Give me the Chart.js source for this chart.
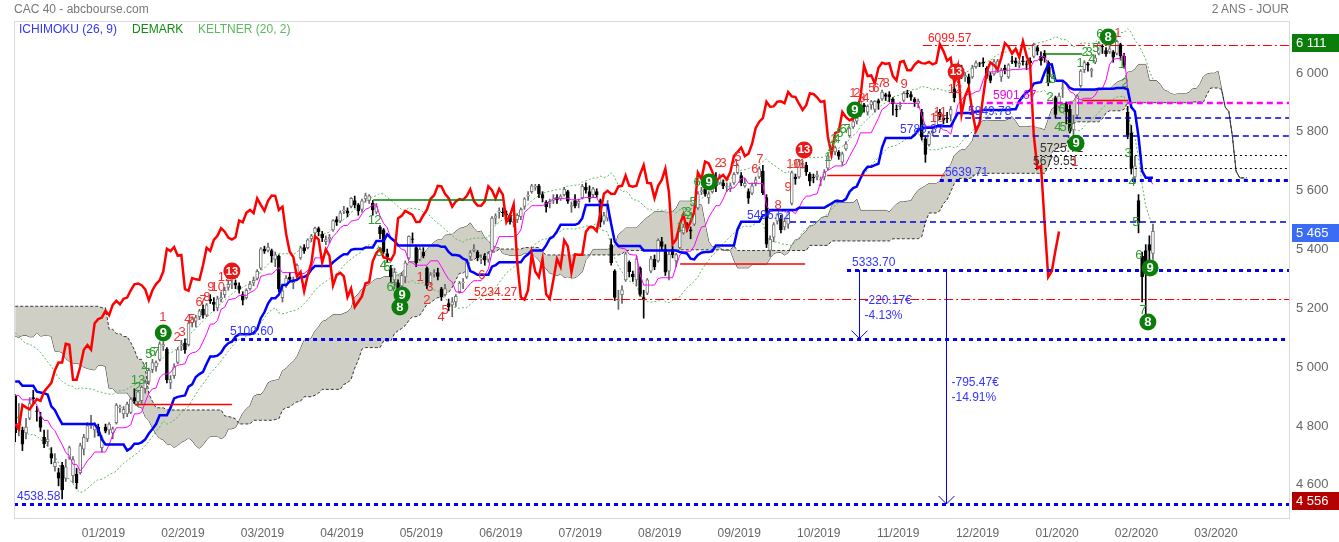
<!DOCTYPE html>
<html><head><meta charset="utf-8">
<script src="https://cdn.jsdelivr.net/npm/chart.js@4.4.0/dist/chart.umd.min.js"></script>
<style>
html,body{margin:0;padding:0;background:#fff;}
#wrap{position:relative;width:1339px;height:542px;overflow:hidden;}
canvas{position:absolute;left:0;top:0;}
.t{position:absolute;font:12px "Liberation Sans",Arial,sans-serif;white-space:nowrap;line-height:14px;}
</style></head><body>
<div id="wrap">
<canvas id="c" width="1339" height="542"></canvas>
<div class="t" style="left:14px;top:2px;color:#777">CAC 40 - abcbourse.com</div>
<div class="t" style="right:50px;top:2px;color:#777">2 ANS - JOUR</div>
<div class="t" style="left:19px;top:22px;color:#3535ff">ICHIMOKU (26, 9)</div>
<div class="t" style="left:132px;top:22px;color:#118c11">DEMARK</div>
<div class="t" style="left:198px;top:22px;color:#5cb85c">KELTNER (20, 2)</div>
</div>
<script>
// ---------- price data: daily [open, high, low, close] ----------
// history before the visible window (used only by the indicators)
const h2018_08 = [[5350,5385,5345,5373],[5380,5410,5372,5402],[5400,5420,5390,5413],[5410,5425,5390,5406],[5408,5440,5400,5432],[5445,5485,5440,5479],[5480,5495,5465,5482],[5485,5510,5470,5502],[5495,5500,5430,5441],[5430,5440,5395,5406]];
const h2018_09 = [[5400,5425,5395,5413],[5410,5415,5335,5343],[5340,5350,5265,5279],[5285,5300,5250,5270],[5265,5275,5230,5252],[5260,5295,5255,5280],[5275,5300,5250,5295],[5300,5325,5285,5315],[5320,5345,5310,5328],[5335,5360,5325,5353],[5350,5355,5330,5347],[5345,5380,5340,5370],[5375,5400,5365,5391],[5400,5420,5395,5410],[5430,5525,5425,5494],[5480,5500,5465,5477],[5475,5495,5465,5480],[5485,5505,5475,5492],[5490,5515,5480,5512],[5495,5510,5480,5493]];
const h2018_10 = [[5500,5515,5480,5507],[5490,5495,5450,5467],[5470,5495,5455,5480],[5450,5455,5400,5410],[5400,5405,5345,5359],[5320,5330,5280,5300],[5310,5340,5295,5320],[5320,5330,5200,5206],[5140,5150,5080,5106],[5130,5140,5070,5095],[5100,5125,5080,5113],[5120,5170,5110,5166],[5160,5175,5130,5145],[5150,5160,5100,5116],[5110,5130,5060,5084],[5090,5110,5040,5053],[5020,5030,4930,4967],[4980,5010,4940,4953],[4960,5040,4920,5032],[4960,4995,4896,4967],[5000,5050,4990,5008],[5000,5045,4975,5034],[5070,5100,5060,5093]];
const h2018_11 = [[5095,5110,5060,5085],[5110,5140,5090,5102],[5080,5100,5060,5085],[5085,5095,5060,5075],[5100,5140,5095,5130],[5130,5160,5115,5128],[5110,5120,5090,5106],[5100,5115,5050,5060],[5070,5110,5060,5100],[5090,5100,5055,5068],[5050,5060,5000,5020],[5020,5040,5000,5025],[5020,5030,4980,4993],[4960,4965,4900,4947],[4955,4980,4940,4960],[4955,4965,4930,4939],[4935,4955,4915,4947],[4980,5020,4975,5013],[4995,5000,4970,4985],[4995,5010,4970,4983],[4990,5005,4970,4983],[4990,5015,4975,5003]];
const h2018_12 = [[5040,5065,5000,5012],[5010,5030,4950,4958],[4920,4960,4900,4935]];
// visible candles
const d2018_12 = [[4905,4910,4750,4781],[4790,4880,4770,4813],[4790,4800,4720,4742],[4780,4830,4760,4800],[4830,4900,4825,4880],[4900,4925,4880,4896],[4855,4870,4820,4853],[4835,4850,4785,4799],[4765,4790,4730,4743],[4750,4790,4735,4759],[4710,4730,4675,4694],[4665,4710,4650,4680],[4645,4660,4600,4626],[4670,4680,4556,4586],[4625,4690,4615,4665],[4695,4735,4690,4730]];
const d2019_01 = [[4635,4700,4610,4689],[4640,4660,4590,4611],[4645,4745,4640,4737],[4725,4775,4705,4765],[4760,4815,4750,4805],[4805,4840,4795,4813],[4790,4815,4765,4805],[4800,4810,4770,4782],[4730,4770,4715,4763],[4800,4810,4780,4786],[4790,4815,4775,4810],[4780,4800,4760,4794],[4815,4880,4810,4875],[4865,4875,4850,4867],[4845,4870,4830,4860],[4845,4885,4835,4878],[4850,4900,4845,4895],[4900,4930,4880,4889],[4885,4925,4870,4920],[4890,4940,4880,4935],[4930,4960,4915,4950],[4955,5000,4945,4993]];
const d2019_02 = [[4995,5030,4985,5019],[5005,5025,4990,5019],[5030,5090,5025,5083],[5075,5090,5060,5080],[5065,5070,4950,4961],[4950,4975,4930,4961],[4975,5015,4965,5005],[5020,5070,5015,5063],[5075,5095,5060,5079],[5085,5100,5050,5063],[5080,5160,5075,5153],[5155,5175,5140,5167],[5160,5180,5140,5172],[5175,5200,5165,5195],[5200,5215,5170,5180],[5180,5220,5175,5215],[5235,5250,5220,5229],[5225,5240,5195,5217],[5205,5245,5195,5236],[5235,5260,5225,5240]];
const d2019_03 = [[5250,5275,5240,5265],[5275,5300,5265,5285],[5285,5300,5270,5288],[5290,5300,5270,5282],[5280,5290,5255,5268],[5250,5260,5215,5231],[5240,5270,5235,5265],[5270,5295,5265,5286],[5290,5310,5280,5299],[5305,5335,5300,5329],[5340,5410,5335,5406],[5405,5415,5390,5398],[5400,5425,5395,5412],[5400,5405,5360,5382],[5370,5395,5345,5385],[5380,5385,5260,5269],[5240,5275,5225,5263],[5280,5315,5275,5306],[5310,5325,5295,5302],[5290,5310,5270,5300],[5320,5355,5315,5350]];
const d2019_04 = [[5375,5415,5370,5409],[5410,5420,5390,5399],[5410,5440,5405,5436],[5440,5455,5430,5450],[5460,5480,5450,5476],[5475,5480,5450,5464],[5455,5465,5430,5444],[5430,5450,5420,5437],[5440,5455,5425,5445],[5470,5505,5465,5502],[5505,5515,5485,5496],[5500,5535,5495,5528],[5535,5550,5525,5538],[5535,5545,5515,5527],[5550,5580,5545,5577],[5570,5585,5545,5555],[5555,5560,5520,5535],[5540,5575,5530,5569],[5575,5595,5565,5587],[5570,5590,5560,5586]];
const d2019_05 = [[5560,5570,5520,5538],[5530,5560,5525,5549],[5480,5485,5440,5457],[5470,5475,5390,5396],[5390,5405,5360,5378],[5340,5350,5290,5311],[5300,5340,5270,5327],[5290,5300,5240,5262],[5280,5325,5270,5316],[5310,5365,5290,5358],[5375,5450,5370,5448],[5440,5460,5425,5438],[5410,5415,5345,5359],[5370,5410,5365,5404],[5395,5410,5375,5382],[5340,5345,5270,5281],[5290,5325,5285,5317],[5320,5335,5310,5324],[5325,5340,5300,5312],[5270,5275,5230,5242],[5250,5285,5245,5271],[5220,5235,5195,5208]];
const d2019_06 = [[5215,5240,5175,5226],[5225,5250,5210,5244],[5260,5295,5255,5289],[5290,5305,5270,5292],[5310,5370,5305,5364],[5380,5400,5370,5392],[5400,5420,5395,5405],[5395,5400,5365,5376],[5370,5385,5355,5375],[5380,5390,5350,5367],[5370,5395,5360,5390],[5400,5515,5395,5510],[5510,5525,5490,5518],[5530,5545,5510,5535],[5530,5545,5515,5528],[5525,5535,5510,5521],[5520,5525,5490,5497],[5495,5510,5480,5498],[5505,5525,5495,5520],[5515,5545,5505,5539]];
const d2019_07 = [[5550,5580,5540,5576],[5585,5600,5570,5588],[5600,5625,5595,5620],[5615,5625,5605,5618],[5620,5625,5580,5593],[5590,5600,5565,5578],[5565,5570,5530,5549],[5560,5575,5545,5567],[5570,5590,5560,5575],[5580,5590,5560,5572],[5575,5590,5570,5585],[5590,5615,5585,5608],[5600,5605,5560,5568],[5550,5565,5530,5553],[5570,5590,5545,5552],[5560,5575,5545,5567],[5580,5625,5575,5618],[5615,5630,5595,5605],[5600,5620,5565,5577],[5590,5615,5580,5610],[5600,5610,5580,5590],[5570,5575,5480,5496],[5500,5530,5490,5519]];
const d2019_08 = [[5510,5570,5500,5557],[5420,5440,5350,5359],[5330,5335,5230,5241],[5230,5265,5200,5233],[5250,5280,5220,5266],[5300,5395,5295,5389],[5360,5365,5310,5328],[5320,5330,5295,5310],[5300,5380,5280,5371],[5340,5345,5245,5251],[5240,5265,5170,5236],[5255,5305,5250,5300],[5330,5380,5325,5372],[5370,5385,5335,5344],[5365,5440,5360,5435],[5430,5445,5400,5414],[5405,5420,5315,5326],[5330,5395,5300,5387],[5405,5415,5375,5386],[5365,5390,5345,5386],[5410,5470,5405,5464],[5460,5490,5455,5480]];
const d2019_09 = [[5490,5495,5465,5479],[5470,5480,5440,5466],[5490,5530,5485,5526],[5545,5600,5540,5593],[5600,5615,5590,5603],[5610,5620,5585,5592],[5580,5600,5560,5593],[5600,5625,5595,5618],[5640,5665,5600,5620],[5630,5660,5625,5655],[5630,5640,5610,5620],[5615,5630,5600,5617],[5610,5630,5600,5620],[5630,5665,5625,5659],[5665,5695,5660,5690],[5655,5665,5620,5630],[5620,5645,5615,5628],[5600,5610,5560,5578],[5595,5630,5590,5620],[5630,5650,5620,5640],[5650,5685,5645,5678]];
const d2019_10 = [[5670,5690,5590,5597],[5580,5590,5410,5422],[5400,5450,5380,5438],[5445,5495,5430,5488],[5500,5525,5490,5522],[5510,5520,5460,5471],[5480,5510,5470,5499],[5490,5540,5475,5531],[5560,5670,5555,5665],[5650,5660,5625,5643],[5650,5710,5645,5702],[5690,5705,5680,5696],[5690,5700,5655,5668],[5660,5665,5620,5636],[5650,5660,5630,5648],[5650,5670,5640,5657],[5640,5650,5620,5641],[5650,5675,5640,5667],[5680,5725,5675,5722],[5730,5740,5715,5735],[5735,5755,5725,5750],[5735,5740,5710,5721],[5700,5735,5690,5729]];
const d2019_11 = [[5745,5770,5740,5762],[5790,5820,5785,5816],[5820,5845,5815,5838],[5840,5855,5830,5850],[5860,5910,5855,5906],[5895,5900,5870,5889],[5870,5895,5860,5890],[5895,5910,5880,5906],[5880,5910,5870,5907],[5910,5915,5880,5901],[5915,5945,5910,5939],[5930,5935,5910,5924],[5930,5940,5905,5922],[5915,5920,5860,5899],[5880,5895,5855,5878],[5890,5905,5880,5894],[5910,5940,5905,5934],[5935,5945,5920,5932],[5930,5940,5910,5921],[5915,5920,5890,5905],[5900,5915,5885,5908]];
const d2019_12 = [[5870,5880,5775,5786],[5780,5790,5700,5727],[5760,5805,5755,5799],[5800,5815,5790,5804],[5820,5875,5815,5871],[5870,5880,5845,5853],[5850,5860,5830,5843],[5850,5870,5835,5848],[5860,5890,5840,5880],[5950,5990,5905,5919],[5975,6035,5970,6029],[6020,6030,5985,5993],[5990,6005,5975,5995],[5990,6000,5960,5968],[5990,6030,5985,6021],[6025,6045,6020,6038],[6035,6040,6025,6034],[6040,6055,6025,6037],[6020,6025,5985,5993],[5995,6005,5970,5978]];
const d2020_01 = [[6000,6050,5995,6041],[6010,6050,6005,6044],[5990,6020,5975,6013],[6020,6030,6000,6013],[5990,6035,5985,6031],[6045,6060,6035,6043],[6045,6055,6025,6037],[6030,6045,6020,6036],[6045,6060,6030,6041],[6035,6045,6015,6033],[6045,6055,6030,6038],[6060,6105,6055,6101],[6090,6095,6065,6078],[6060,6075,6030,6045],[6070,6080,6040,6055],[6040,6045,5960,5971],[5990,6035,5985,6024],[5920,5925,5850,5863],[5890,5935,5885,5925],[5950,5975,5920,5954],[5900,5905,5830,5871],[5880,5895,5800,5806]];
const d2020_02 = [[5810,5860,5790,5832],[5860,5930,5850,5925],[5960,6015,5955,6010],[6015,6045,6005,6039],[6035,6040,6010,6030],[6010,6020,5990,6016],[6040,6065,6035,6055],[6070,6110,6065,6105],[6095,6100,6070,6093],[6080,6090,6060,6069],[6075,6095,6070,6086],[6075,6080,6040,6057],[6070,6115,6065,6111],[6100,6105,6050,6062],[6060,6070,6020,6030],[5870,5890,5780,5792],[5800,5825,5660,5679],[5650,5720,5630,5688],[5570,5590,5460,5495],[5380,5395,5225,5310]];
const d2020_03 = [[5400,5420,5180,5330],[5420,5450,5360,5400],[5390,5490,5370,5465]];

// axis labels
const monthLabels = ['01/2019','02/2019','03/2019','04/2019','05/2019','06/2019','07/2019','08/2019','09/2019','10/2019','11/2019','12/2019','01/2020','02/2020','03/2020'];
const priceTicks = [4600,4800,5000,5200,5400,5600,5800,6000];
// right-axis price flags [value, kind]
const axisFlags = [[6111,'high'],[5465,'last'],[4556,'low']];

// drawn horizontal levels: value, first day index, label day index, kind
const levelValues = [4538.58,5100.60,5333.70,5639.71,5234.27,6099.57,5496.62,5789.37,5849.78,5901.67,5725.71,5679.55];
const levelFrom   = [-0.33,58.1,230.3,256.0,125.4,251.3,214.5,251.3,263.0,269.0,283.7,282.3];
const levelLabelAt= [0.5,59.5,231.7,257.4,127.0,252.7,202.6,245.0,263.8,270.7,283.7,281.8];
const levelKind   = ['support','support','support','support','pivot','pivot','level','level','level','target','stop','stop'];

// DeMark TDST lines [from, to, value]
const tdstGreen = [[99.1,135.0,5572],[285.1,295.4,6068]];
const tdstRed   = [[33.2,60.0,4877],[184.1,218.7,5354],[224.8,257.4,5655],[295.4,308.1,5910]];

// DeMark counts [day index, price, text, kind]  b=buy count, s=sell count, B=buy signal, S=sell signal
const demark = [
 [33,4960,'1','b'],[33.9,4936,'2','b'],[35,4960,'3','b'],[36,5001,'4','b'],[37,5048,'5','b'],[38,5052,'6','b'],[39,5052,'7','b'],[41,5120,'9','B'],
 [40.9,5171,'1','s'],[44.8,5103,'2','s'],[46.2,5120,'3','s'],[47.8,5167,'4','s'],[48.9,5167,'5','s'],[50.9,5225,'6','s'],[52,5232,'7','s'],[53.1,5242,'8','s'],[54.2,5276,'9','s'],[56.1,5276,'10','s'],[58.1,5310,'12','s'],[60,5330,'13','S'],
 [98.6,5504,'1','b'],[100.4,5504,'2','b'],[100.8,5392,'3','b'],[101.9,5351,'4','b'],[103,5341,'5','b'],[103.8,5276,'6','b'],[104.9,5276,'7','b'],[106.5,5208,'8','B'],[107.1,5249,'9','B'],
 [112.1,5310,'1','s'],[114,5232,'2','s'],[114.8,5273,'3','s'],[117.9,5171,'4','s'],[119,5198,'5','s'],[129.2,5317,'6','s'],
 [184.1,5480,'1','b'],[185.2,5531,'2','b'],[186.3,5531,'3','b'],[186.8,5511,'4','b'],[187.7,5562,'5','b'],[188.8,5633,'6','b'],[192.1,5633,'9','B'],
 [194.6,5697,'2','s'],[196,5697,'3','s'],[199.3,5691,'4','s'],[200.1,5718,'5','s'],[204.8,5674,'6','s'],[206.2,5708,'7','s'],[211.2,5555,'8','s'],[214,5613,'9','s'],[215.5,5691,'10','s'],[217,5691,'11','s'],[218.4,5742,'13','S'],
 [225,5718,'1','b'],[225.9,5752,'2','b'],[226.7,5776,'3','b'],[227.5,5776,'4','b'],[228.3,5799,'5','b'],[229.2,5810,'6','b'],[230.3,5810,'7','b'],[232.5,5878,'9','B'],
 [231.9,5935,'1','s'],[233,5935,'2','s'],[234.4,5918,'3','s'],[235.5,5918,'4','s'],[237.2,5952,'5','s'],[238.3,5952,'6','s'],[239.7,5969,'7','s'],[241.1,5969,'8','s'],[246.1,5963,'9','s'],[255.2,5850,'10','s'],[256.1,5871,'11','s'],[260.2,5946,'12','s'],[260.5,6007,'13','S'],
 [286,5980,'1','b'],[286.5,5922,'2','b'],[287.3,5980,'3','b'],[288.7,5820,'4','b'],[290.1,5820,'5','b'],[289.8,5878,'6','b'],[292,5816,'7','b'],[293.7,5765,'9','B'],[293.4,5701,'1','s'],
 [294.8,6037,'1','b'],[296.2,6075,'2','b'],[297.3,6075,'3','b'],[298.1,6048,'4','b'],[299.2,6088,'5','b'],[300.3,6133,'6','b'],[302.6,6126,'8','B'],[305.3,6139,'1','s'],
 [306.4,6031,'1','b'],[307.2,5969,'2','b'],[308.1,5731,'3','b'],[309.2,5633,'4','b'],[310.3,5494,'5','b'],[311.1,5385,'6','b'],[312.2,5198,'7','b'],[313.6,5157,'8','B'],[314.2,5341,'9','B']
];

// measured moves [day index, from price, to price, amount, percent]
const moves = [[233.6,5333.70,5100.60,'-220.17€','-4.13%'],[257.7,5333.70,4538.58,'-795.47€','-14.91%']];

// ---------- build series ----------
const FONT = '"Liberation Sans", Arial, sans-serif';
Chart.defaults.font.family = FONT;
const preRows = [].concat(h2018_08,h2018_09,h2018_10,h2018_11,h2018_12);
const visRows = [].concat(d2018_12,d2019_01,d2019_02,d2019_03,d2019_04,d2019_05,d2019_06,d2019_07,d2019_08,d2019_09,d2019_10,d2019_11,d2019_12,d2020_01,d2020_02,d2020_03);
const rows = preRows.concat(visRows);
const PRE = preRows.length, N = rows.length;
const O = rows.map(r=>r[0]), H = rows.map(r=>r[1]), L = rows.map(r=>r[2]), C = rows.map(r=>r[3]);
// standard Ichimoku / Keltner definitions computed from the price rows
function mid(k,n){let hi=-1e9,lo=1e9;for(let j=Math.max(0,k-n+1);j<=k;j++){if(H[j]>hi)hi=H[j];if(L[j]<lo)lo=L[j];}return (hi+lo)/2;}
const tenkan=[],kijun=[],spanA=[],spanB=[],chikou=[],keltUp=[],keltLo=[],wick=[],body=[],bodyFill=[],bodyLine=[],wickCol=[];
for(let k=PRE;k<N;k++){const i=k-PRE;tenkan.push({x:i,y:mid(k,9)});kijun.push({x:i,y:mid(k,26)});}
for(let k=PRE-26;k<N;k++){const i=k-PRE+26;spanA.push({x:i,y:(mid(k,9)+mid(k,26))/2});spanB.push({x:i,y:mid(k,52)});}
for(let k=PRE+26;k<N;k++) chikou.push({x:k-PRE-26,y:C[k]});
let ema=C[0], atr=H[0]-L[0]; const al=2/21;
for(let k=0;k<N;k++){
  if(k>0){const tr=Math.max(H[k]-L[k],Math.abs(H[k]-C[k-1]),Math.abs(L[k]-C[k-1]));ema+=(C[k]-ema)*al;atr+=(tr-atr)*al;}
  if(k>=PRE){keltUp.push({x:k-PRE,y:ema+2*atr});keltLo.push({x:k-PRE,y:ema-2*atr});}
}
for(let k=PRE;k<N;k++){const i=k-PRE,up=C[k]>=O[k];
  wick.push({x:i,y:[L[k],H[k]]});body.push({x:i,y:[O[k],C[k]]});
  bodyFill.push(up?'#ffffff':'#000000');bodyLine.push(up?'#777777':'#000000');wickCol.push(up?'#666666':'#000000');}

// ---------- styles ----------
const levelStyle = {
  support:{c:'#0000ee',w:3,d:[4,4],t:'#3535ff'},
  level:{c:'#0000dd',w:1.5,d:[6,4],t:'#3535ff'},
  pivot:{c:'#ff0000',w:1,d:[9,3,2,3],t:'#ff2020'},
  target:{c:'#ff00ff',w:2.5,d:[6,4],t:'#ee00ee'},
  stop:{c:'#000000',w:1,d:[2,3],t:'#333333'}
};
const flagColor = {high:'#0b7d0b',last:'#3b6cf6',low:'#b30000'};
const fmt = v => String(v).replace(/\B(?=(\d{3})+(?!\d))/g,' ');

const annot = {
  id:'annot',
  afterDatasetsDraw(chart){
    const {ctx, chartArea:a, scales:{x,y}} = chart;
    const X=v=>x.getPixelForValue(v), Y=v=>y.getPixelForValue(v);
    ctx.save();
    ctx.beginPath();ctx.rect(a.left,a.top,a.right-a.left,a.bottom-a.top);ctx.clip();
    // TDST
    ctx.setLineDash([]);ctx.lineWidth=1.5;
    tdstGreen.forEach(([f,t,v])=>{ctx.strokeStyle='#008000';ctx.beginPath();ctx.moveTo(X(f),Y(v));ctx.lineTo(X(t),Y(v));ctx.stroke();});
    tdstRed.forEach(([f,t,v])=>{ctx.strokeStyle='#ff0000';ctx.beginPath();ctx.moveTo(X(f),Y(v));ctx.lineTo(X(t),Y(v));ctx.stroke();});
    // levels
    levelValues.forEach((v,k)=>{
      const s=levelStyle[levelKind[k]];
      ctx.strokeStyle=s.c;ctx.lineWidth=s.w;ctx.setLineDash(s.d);
      const yy=Math.round(Y(v))+(s.w%2===1?0.5:0);
      ctx.beginPath();ctx.moveTo(X(levelFrom[k]),yy);ctx.lineTo(a.right,yy);ctx.stroke();
    });
    ctx.setLineDash([]);
    ctx.font='12px '+FONT;ctx.textAlign='left';ctx.textBaseline='bottom';
    levelValues.forEach((v,k)=>{
      const s=levelStyle[levelKind[k]];
      ctx.fillStyle=s.t;
      ctx.fillText(v.toFixed(2),X(levelLabelAt[k]),Math.round(Y(v))-Math.ceil(s.w/2)+1);
    });
    // measured moves
    ctx.strokeStyle='#0000ff';ctx.lineWidth=1;ctx.fillStyle='#3535ff';ctx.textBaseline='middle';
    moves.forEach(([i,f,t,amt,pct])=>{
      const xx=Math.round(X(i))+0.5,y1=Y(f),y2=Y(t);
      ctx.beginPath();ctx.moveTo(xx,y1);ctx.lineTo(xx,y2);
      ctx.moveTo(xx-8,y2-8);ctx.lineTo(xx,y2);ctx.lineTo(xx+8,y2-8);ctx.stroke();
      const m=(y1+y2)/2;
      ctx.fillText(amt,xx+5,m-4);ctx.fillText(pct,xx+5,m+11);
    });
    // DeMark
    ctx.textAlign='center';ctx.textBaseline='middle';
    demark.forEach(([i,v,t,k])=>{
      const px=X(i),pv=Y(v);
      if(k==='B'||k==='S'){
        ctx.fillStyle=k==='B'?'#0b7d0b':'#e81818';
        ctx.beginPath();ctx.arc(px,pv,8.5,0,Math.PI*2);ctx.fill();
        ctx.fillStyle='#ffffff';ctx.font=(t.length>1?'bold 11px ':'bold 13px ')+FONT;
        ctx.fillText(t,px,pv+0.5);
      } else {
        ctx.fillStyle=k==='b'?'#2e9e2e':'#f23030';ctx.font='13px '+FONT;
        ctx.fillText(t,px,pv);
      }
    });
    ctx.restore();
    // frame
    ctx.save();
    ctx.strokeStyle='#dadada';ctx.lineWidth=1;
    ctx.strokeRect(a.left+0.5,a.top+0.5,a.right-a.left-1,a.bottom-a.top-1);
    // axis flags
    ctx.font='13px '+FONT;ctx.textAlign='left';ctx.textBaseline='middle';
    axisFlags.forEach(([v,k])=>{
      const yy=Math.round(Y(v))+2;
      ctx.fillStyle=flagColor[k];ctx.fillRect(a.right+2,yy-9,47,18);
      ctx.fillStyle='#ffffff';ctx.fillText(fmt(v),a.right+6,yy+0.5);
    });
    ctx.restore();
  }
};

const line=(data,color,width,order,extra)=>Object.assign({type:'line',data,borderColor:color,borderWidth:width,pointRadius:0,tension:0,order,fill:false},extra||{});

new Chart(document.getElementById('c'),{
  type:'bar',
  data:{datasets:[
    line(spanA,'#333333',1,30),
    line(spanB,'#333333',1,29,{borderDash:[3,2],fill:'-1',backgroundColor:'#cfcfc5'}),
    line(keltUp,'#5cb85c',1,20,{borderDash:[2,2]}),
    line(keltLo,'#5cb85c',1,20,{borderDash:[2,2]}),
    {type:'bar',data:wick,backgroundColor:wickCol,barThickness:1,grouped:false,order:12,borderWidth:0},
    {type:'bar',data:body,backgroundColor:bodyFill,borderColor:bodyLine,borderWidth:1,borderSkipped:false,barThickness:3,grouped:false,order:11},
    line(tenkan,'#ff00ff',1,6),
    line(kijun,'#0000ff',2.5,5),
    line(chikou,'#ff0000',2.5,4)
  ]},
  options:{
    responsive:false,animation:false,events:[],
    layout:{padding:{left:14,top:21,right:0,bottom:0}},
    plugins:{legend:{display:false},tooltip:{enabled:false}},
    scales:{
      x:{type:'linear',min:-0.33,max:352.94,offset:false,grid:{display:false,drawTicks:false},border:{display:false},
         afterBuildTicks:s=>{s.ticks=monthLabels.map((_,k)=>({value:24.45+22*k}));},
         ticks:{autoSkip:false,maxRotation:0,color:'#666',font:{size:12},padding:7,callback:(v,i)=>monthLabels[i]},
         afterFit:s=>{s.height=23;}},
      y:{position:'right',min:4487.4,max:6180.2,grid:{display:false,drawTicks:false},border:{display:false},
         afterBuildTicks:s=>{s.ticks=priceTicks.map(v=>({value:v}));},
         ticks:{color:'#666',font:{size:13},padding:6,labelOffset:-1,callback:v=>fmt(v)},
         afterFit:s=>{s.width=49;}}
    }
  },
  plugins:[annot]
});
</script>
</body></html>
